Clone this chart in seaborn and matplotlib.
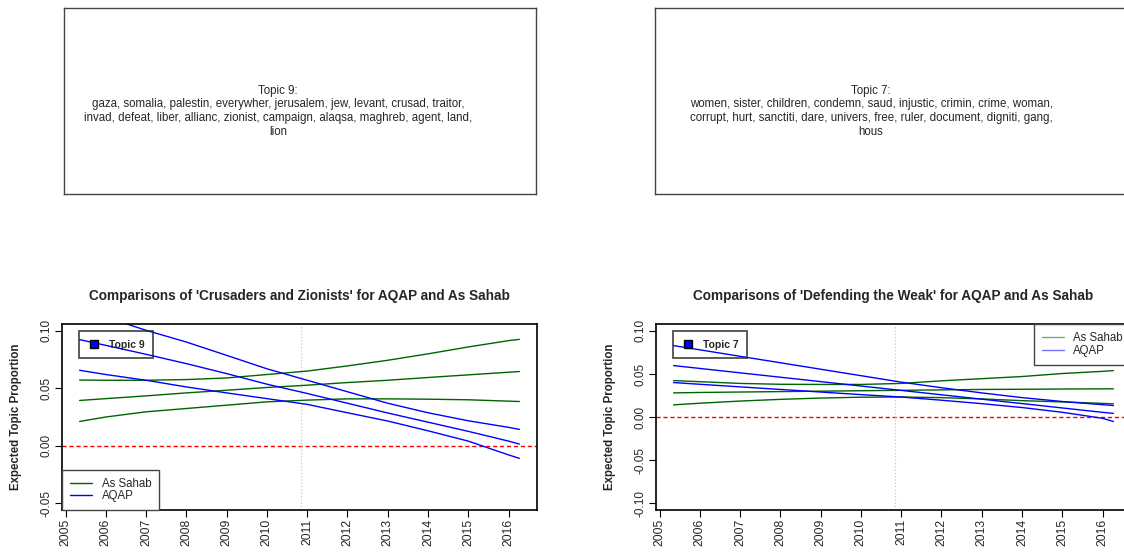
import matplotlib
matplotlib.use("Agg")
import pandas as pd
import matplotlib.pyplot as plt
import seaborn as sns
from matplotlib.lines import Line2D

# Anos avaliados (inicio e fim do periodo nao sao anos cheios)
years = [2005.35, 2006, 2007, 2008, 2009, 2010, 2011, 2012, 2013, 2014, 2015, 2016, 2016.27]

# Topic 9: 'Crusaders and Zionists'
t9_sahab_upper = [0.0572, 0.0570, 0.0570, 0.0576, 0.0590, 0.0620, 0.0650, 0.0695, 0.0744, 0.0800, 0.0860, 0.0915, 0.0926]
t9_sahab_mean = [0.0394, 0.0410, 0.0434, 0.0460, 0.0483, 0.0507, 0.0527, 0.0550, 0.0570, 0.0594, 0.0617, 0.0640, 0.0646]
t9_sahab_lower = [0.0211, 0.0250, 0.0295, 0.0324, 0.0353, 0.0382, 0.0397, 0.0408, 0.0408, 0.0405, 0.0400, 0.0388, 0.0385]
t9_aqap_upper = [0.1180, 0.1120, 0.1005, 0.0903, 0.0787, 0.0670, 0.0570, 0.0470, 0.0370, 0.0287, 0.0217, 0.0160, 0.0142]
t9_aqap_mean = [0.0924, 0.0874, 0.0796, 0.0715, 0.0628, 0.0536, 0.0455, 0.0370, 0.0285, 0.0205, 0.0125, 0.0040, 0.0014]
t9_aqap_lower = [0.0657, 0.0620, 0.0570, 0.0512, 0.0460, 0.0410, 0.0360, 0.0287, 0.0215, 0.0130, 0.0040, -0.0080, -0.0110]

# Topic 7: 'Defending the Weak'
t7_sahab_upper = [0.0423, 0.0410, 0.0390, 0.0380, 0.0378, 0.0378, 0.0390, 0.0420, 0.0445, 0.0470, 0.0505, 0.0530, 0.0539]
t7_sahab_mean = [0.0280, 0.0285, 0.0290, 0.0295, 0.0300, 0.0305, 0.0310, 0.0315, 0.0320, 0.0322, 0.0325, 0.0327, 0.0327]
t7_sahab_lower = [0.0141, 0.0160, 0.0185, 0.0205, 0.0220, 0.0230, 0.0232, 0.0225, 0.0210, 0.0190, 0.0175, 0.0158, 0.0153]
t7_aqap_upper = [0.0829, 0.0780, 0.0705, 0.0630, 0.0555, 0.0480, 0.0405, 0.0340, 0.0280, 0.0225, 0.0180, 0.0143, 0.0133]
t7_aqap_mean = [0.0597, 0.0564, 0.0513, 0.0462, 0.0411, 0.0360, 0.0309, 0.0258, 0.0207, 0.0156, 0.0105, 0.0054, 0.0042]
t7_aqap_lower = [0.0400, 0.0380, 0.0350, 0.0320, 0.0290, 0.0260, 0.0232, 0.0195, 0.0155, 0.0110, 0.0055, -0.0015, -0.0052]

x_ticks = list(range(2005, 2017))
sources = ['As Sahab', 'AQAP']
palette = {'As Sahab': 'darkgreen', 'AQAP': 'blue'}

topic9_words = ("Topic 9:\ngaza, somalia, palestin, everywher, jerusalem, jew, levant, crusad, traitor,\n"
                "invad, defeat, liber, allianc, zionist, campaign, alaqsa, maghreb, agent, land,\nlion")
topic7_words = ("Topic 7:\nwomen, sister, children, condemn, saud, injustic, crimin, crime, woman,\n"
                "corrupt, hurt, sanctiti, dare, univers, free, ruler, document, digniti, gang,\nhous")


def long_table(sahab, aqap):
    rows = []
    for src, bands in zip(sources, [sahab, aqap]):
        for band, vals in zip(['upper', 'mean', 'lower'], bands):
            for x, v in zip(years, vals):
                rows.append({'year': x, 'value': v, 'source': src, 'band': band})
    return pd.DataFrame(rows)


paineis = [
    dict(words=topic9_words, box=(64, 8, 536, 194), axes=(62, 324, 537, 510),
         title="Comparisons of 'Crusaders and Zionists' for AQAP and As Sahab",
         data=long_table([t9_sahab_upper, t9_sahab_mean, t9_sahab_lower],
                         [t9_aqap_upper, t9_aqap_mean, t9_aqap_lower]),
         ylim=(-0.056, 0.106), yticks=[-0.05, 0.0, 0.05, 0.10], topic='Topic 9',
         leg_loc='lower left', leg_anchor=(0, 0), leg_spacing=0.0, leg_pad=0.7,
         leg_alpha=1.0),
    dict(words=topic7_words, box=(655, 8, 1131, 194), axes=(656, 324, 1131, 510),
         title="Comparisons of 'Defending the Weak' for AQAP and As Sahab",
         data=long_table([t7_sahab_upper, t7_sahab_mean, t7_sahab_lower],
                         [t7_aqap_upper, t7_aqap_mean, t7_aqap_lower]),
         ylim=(-0.108, 0.108), yticks=[-0.10, -0.05, 0.0, 0.05, 0.10], topic='Topic 7',
         leg_loc='upper right', leg_anchor=(1, 1), leg_spacing=0.05, leg_pad=0.7,
         leg_alpha=0.55),
]

sns.set_style('white')
plt.rcParams['font.family'] = ['Liberation Sans', 'DejaVu Sans']

W, H = 1124, 552
fig = plt.figure(figsize=(W / 100, H / 100), dpi=100)


def rect(x0, y0, x1, y1):
    return [x0 / W, 1 - y1 / H, (x1 - x0) / W, (y1 - y0) / H]


for p in paineis:
    # Caixa com as palavras do topico
    axw = fig.add_axes(rect(*p['box']))
    axw.set_xticks([])
    axw.set_yticks([])
    for s in axw.spines.values():
        s.set_color('#444444')
        s.set_linewidth(1.0)
    axw.text(0.454, 0.445, p['words'], ha='center', va='center', fontsize=8.3,
             linespacing=1.2, transform=axw.transAxes)

    # Grafico de comparacao
    ax = fig.add_axes(rect(*p['axes']))
    ax.axhline(0, color='red', linestyle=(0, (3, 2)), linewidth=1.0, zorder=1)
    ax.axvline(2010.85, color='#c8c8c8', linestyle=':', linewidth=0.9, zorder=1)
    sns.lineplot(data=p['data'], x='year', y='value', hue='source', units='band',
                 estimator=None, sort=False, palette=palette, hue_order=sources,
                 legend=False, linewidth=1.0, ax=ax)

    ax.set_xlim(2004.913, 2016.707)
    ax.set_ylim(*p['ylim'])
    ax.set_xticks(x_ticks)
    ax.set_xticklabels([str(a) for a in x_ticks], rotation=90, fontsize=8.7)
    ax.set_yticks(p['yticks'])
    ax.set_yticklabels(['%.2f' % v for v in p['yticks']], rotation=90, va='center', fontsize=8.5)
    ax.tick_params(direction='out', length=5, width=0.8, color='black', pad=1.5,
                   bottom=True, left=True)
    for s in ax.spines.values():
        s.set_color('black')
        s.set_linewidth(1.2)
    ax.set_xlabel('')
    ax.set_ylabel('Expected Topic Proportion', fontweight='bold', fontsize=8.3)
    ax.yaxis.set_label_coords(-0.085, 0.5)
    ax.set_title(p['title'], fontweight='bold', fontsize=9.8, pad=17)

    # Legenda do topico
    topic_handle = Line2D([], [], marker='s', color='blue', markeredgecolor='black',
                          markersize=6.3, linestyle='')
    leg1 = ax.legend([topic_handle], [p['topic']], loc='upper left',
                     bbox_to_anchor=(0.036, 0.962), borderaxespad=0, frameon=True,
                     fancybox=False, edgecolor='#222222',
                     prop={'size': 7.5, 'weight': 'bold'}, handlelength=1.3,
                     handletextpad=0.75, borderpad=0.82)
    leg1.get_frame().set_facecolor('none')
    leg1.get_frame().set_linewidth(1.3)
    ax.add_artist(leg1)

    # Legenda das series
    handles = [Line2D([], [], color=palette[s], linewidth=1.0, alpha=p['leg_alpha']) for s in sources]
    leg2 = ax.legend(handles, sources, loc=p['leg_loc'], bbox_to_anchor=p['leg_anchor'],
                     borderaxespad=0, frameon=True, fancybox=False, edgecolor='#444444',
                     framealpha=1, fontsize=8.3, handlelength=1.9,
                     handletextpad=0.85, labelspacing=p['leg_spacing'],
                     borderpad=p['leg_pad'])
    leg2.get_frame().set_linewidth(1.0)

fig.savefig('out.png', dpi=100)
